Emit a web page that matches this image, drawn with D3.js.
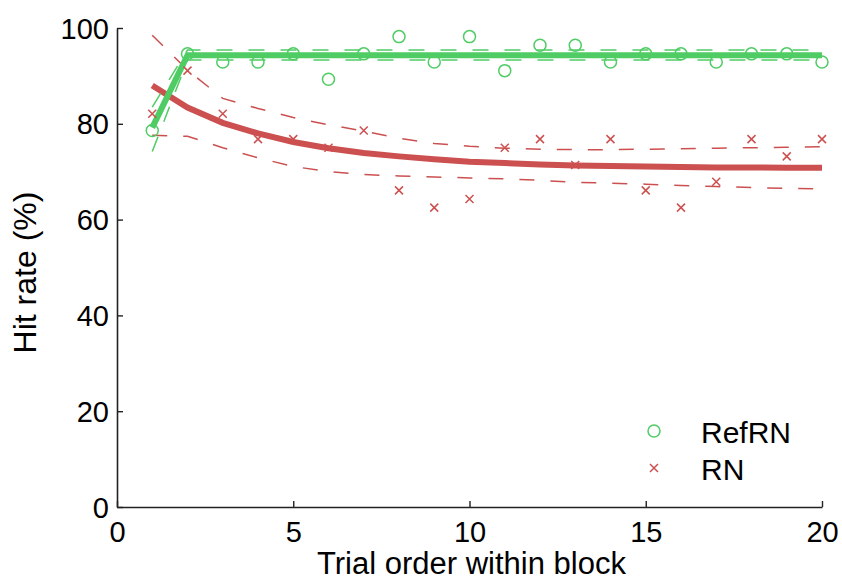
<!DOCTYPE html>
<html>
<head>
<meta charset="utf-8">
<script src="https://cdn.jsdelivr.net/npm/d3@7"></script>
<style>
  html, body { margin: 0; padding: 0; background: #fff; }
  svg { display: block; font-family: "Liberation Sans", Arial, Helvetica, sans-serif; }
</style>
</head>
<body>
<svg id="chart" width="842" height="581"></svg>
<script>
// ---- data ----
const trials = [1,2,3,4,5,6,7,8,9,10,11,12,13,14,15,16,17,18,19,20];
const refRN = [78.6,94.6,92.9,92.9,94.6,89.3,94.6,98.2,92.9,98.2,91.1,96.4,96.4,92.9,94.6,94.6,92.9,94.6,94.6,92.9];
const rn = [82.1,91.1,82.1,76.8,76.8,75.0,78.6,66.1,62.5,64.3,75.0,76.8,71.4,76.8,66.1,62.5,67.9,76.8,73.2,76.8];
const refFit = [79.2,94.3,94.3,94.3,94.3,94.3,94.3,94.3,94.3,94.3,94.3,94.3,94.3,94.3,94.3,94.3,94.3,94.3,94.3,94.3];
const refUpper = [83.5,95.4,95.4,95.4,95.4,95.4,95.4,95.4,95.4,95.4,95.4,95.4,95.4,95.4,95.4,95.4,95.4,95.4,95.4,95.4];
const refLower = [74.2,93.3,93.3,93.3,93.3,93.3,93.3,93.3,93.3,93.3,93.3,93.3,93.3,93.3,93.3,93.3,93.3,93.3,93.3,93.3];
const rnFit = [88.0,83.4,80.2,78.0,76.2,74.9,73.9,73.2,72.6,72.1,71.8,71.5,71.3,71.2,71.1,71.0,70.9,70.9,70.8,70.8];
const rnUpper = [98.5,91.2,85.3,83.2,81.3,79.8,78.5,77.0,75.9,75.3,74.9,74.7,74.6,74.6,74.7,74.8,74.9,75.0,75.1,75.2];
const rnLower = [77.6,77.4,75.0,72.9,71.1,70.0,69.4,69.1,68.9,68.7,68.5,68.2,67.8,67.6,67.4,67.1,66.9,66.7,66.5,66.4];
const xTicks = [0,5,10,15,20];
const yTicks = [0,20,40,60,80,100];
const legendLabels = ["RefRN", "RN"];
const xLabel = "Trial order within block";
const yLabel = "Hit rate (%)";

// ---- styles ----
const GREEN = "#50cc64";
const RED = "#cc5050";
const AXIS = "#222";

const svg = d3.select("#chart");
const x = d3.scaleLinear().domain([0, 20]).range([117, 822]);
const y = d3.scaleLinear().domain([0, 100]).range([507, 28]);

// axes
const xAxis = d3.axisBottom(x).tickValues(xTicks).tickSizeInner(-6).tickSizeOuter(0).tickPadding(14);
const yAxis = d3.axisLeft(y).tickValues(yTicks).tickSizeInner(-6).tickSizeOuter(0).tickPadding(14);

const gx = svg.append("g").attr("transform", `translate(0,${y(0)})`).call(xAxis);
const gy = svg.append("g").attr("transform", `translate(${x(0)},0)`).call(yAxis);
[gx, gy].forEach(g => {
  g.select(".domain").attr("stroke", AXIS).attr("stroke-width", 1.6);
  g.selectAll(".tick line").attr("stroke", AXIS).attr("stroke-width", 1.4);
  g.selectAll(".tick text").attr("fill", "#000").attr("font-size", 29)
    .attr("font-family", "'Liberation Sans', Arial, sans-serif");
});
gx.selectAll(".tick text").attr("dy", "0.71em");
gy.selectAll(".tick text").attr("dy", "0.35em").attr("dx", 6);

// axis labels
svg.append("text")
  .attr("x", (x(0) + x(20)) / 2 + 2).attr("y", 574)
  .attr("text-anchor", "middle").attr("font-size", 31).attr("fill", "#000")
  .text(xLabel);
svg.append("text")
  .attr("transform", `translate(36,${(y(0) + y(100)) / 2 + 5}) rotate(-90)`)
  .attr("text-anchor", "middle").attr("font-size", 32).attr("fill", "#000")
  .text(yLabel);

const line = d3.line().x((d, i) => x(trials[i])).y(d => y(d));

// RN CI dashed
[rnUpper, rnLower].forEach(arr => {
  svg.append("path").datum(arr).attr("d", line)
    .attr("fill", "none").attr("stroke", RED).attr("stroke-width", 1.5)
    .attr("stroke-dasharray", "15,16");
});
// RN fit
svg.append("path").datum(rnFit).attr("d", line)
  .attr("fill", "none").attr("stroke", RED).attr("stroke-width", 6);

// RefRN CI dashed
[refUpper, refLower].forEach(arr => {
  svg.append("path").datum(arr).attr("d", line)
    .attr("fill", "none").attr("stroke", GREEN).attr("stroke-width", 1.5)
    .attr("stroke-dasharray", "16,16");
});
// RefRN fit
svg.append("path").datum(refFit).attr("d", line)
  .attr("fill", "none").attr("stroke", GREEN).attr("stroke-width", 6);

// markers
svg.append("g").selectAll("circle").data(refRN).join("circle")
  .attr("cx", (d, i) => x(trials[i])).attr("cy", d => y(d)).attr("r", 6)
  .attr("fill", "none").attr("stroke", GREEN).attr("stroke-width", 1.5);

const cross = (g, cx, cy, s) => {
  g.append("path")
    .attr("d", `M${cx - s},${cy - s}L${cx + s},${cy + s}M${cx - s},${cy + s}L${cx + s},${cy - s}`)
    .attr("stroke", RED).attr("stroke-width", 1.5).attr("fill", "none");
};
const gCross = svg.append("g");
rn.forEach((d, i) => cross(gCross, x(trials[i]), y(d), 4));

// legend
const lg = svg.append("g");
lg.append("circle").attr("cx", 654).attr("cy", 431).attr("r", 6)
  .attr("fill", "none").attr("stroke", GREEN).attr("stroke-width", 1.5);
cross(lg, 654, 468, 4);
lg.append("text").attr("x", 701).attr("y", 443).attr("font-size", 30).attr("fill", "#000").text(legendLabels[0]);
lg.append("text").attr("x", 701).attr("y", 480).attr("font-size", 30).attr("fill", "#000").text(legendLabels[1]);
</script>
</body>
</html>
